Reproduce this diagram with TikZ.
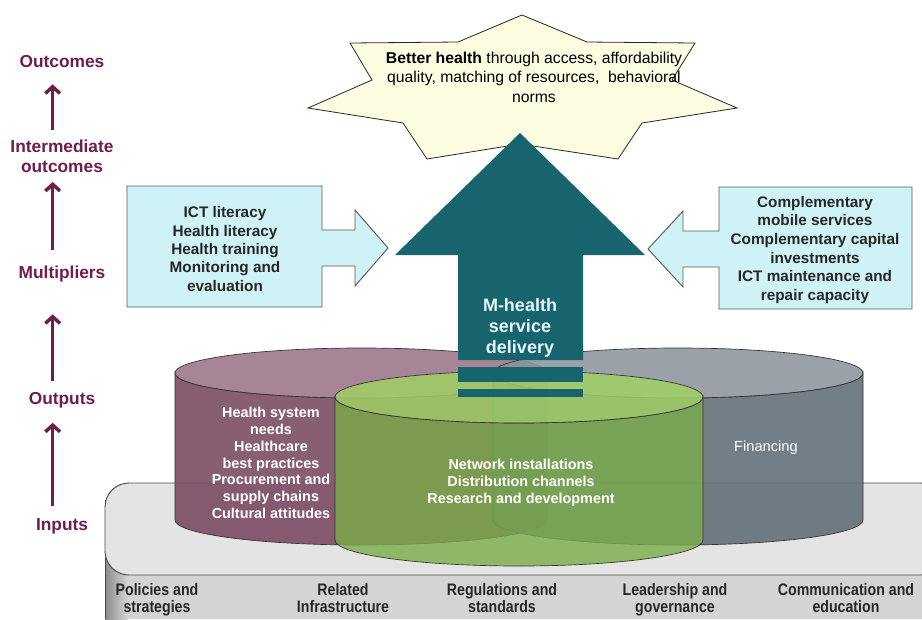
\documentclass[tikz,border=0pt]{standalone}
\usepackage{fontspec}
\setmainfont{Liberation Sans}
\newfontfamily\narrowfont{Liberation Sans}[FakeStretch=0.85]
\usetikzlibrary{arrows.meta}

\definecolor{levelred}{RGB}{110,30,72}
\definecolor{calloutfill}{RGB}{207,242,246}
\definecolor{deliveryteal}{RGB}{24,100,110}
\definecolor{starfill}{RGB}{253,253,226}
\definecolor{maroonbody}{RGB}{120,72,96}
\definecolor{maroontop}{RGB}{154,116,136}
\definecolor{greybody}{RGB}{96,108,118}
\definecolor{greytop}{RGB}{140,148,156}
\definecolor{greenbody}{RGB}{122,172,74}
\definecolor{greentop}{RGB}{160,208,100}
\definecolor{basetop}{RGB}{228,228,228}
\definecolor{baseside}{RGB}{212,212,212}

\tikzset{
  levellabel/.style={text=levelred, font=\fontsize{13}{15}\selectfont\bfseries, align=center, inner sep=2pt},
  levelarrow/.style={draw=levelred, line width=2.6pt, -{Straight Barb[length=5pt,width=11pt]}},
  calloutbox/.style={fill=calloutfill, draw=black!65, line width=0.7pt},
  callouttext/.style={font=\fontsize{11.5}{13.8}\selectfont\bfseries, text=black!85, align=center, inner sep=0pt},
  cylbody/.style={fill=#1, fill opacity=0.88, draw=black!80, line width=0.5pt},
  cyltext/.style={text=white, font=\fontsize{10.8}{12.6}\selectfont\bfseries, align=center, inner sep=0pt},
  basetext/.style={text=black!85, font=\narrowfont\fontsize{12.5}{12.8}\selectfont\bfseries, align=center, inner sep=0pt, anchor=north},
}

\begin{document}
\begin{tikzpicture}[x=0.75pt, y=-0.75pt]
    \useasboundingbox (0,0) rectangle (922,619);
    \clip (0,0) rectangle (922,619);

    % Draw the base platform
    \fill[baseside] (105,540) rectangle (930,619);
    \shade[left color=black!45, right color=baseside] (105,540) rectangle (128,619);
    \draw[line width=0.7pt, black!70] (105,500) -- (105,619);
    \filldraw[fill=basetop, draw=black!70, line width=0.7pt, rounded corners=18pt] (105,483) rectangle (945,575);

    % Draw the three cylinders
    \def\ry{25}
    \filldraw[cylbody=maroonbody] (175,373) -- (175,520) arc[start angle=180, end angle=0, x radius=186, y radius=\ry] -- (547,373) arc[start angle=0, end angle=180, x radius=186, y radius=\ry] -- cycle;
    \filldraw[cylbody=maroontop] (361,373) ellipse [x radius=186, y radius=\ry];

    \filldraw[cylbody=greybody] (493,373) -- (493,520) arc[start angle=180, end angle=0, x radius=185, y radius=\ry] -- (863,373) arc[start angle=0, end angle=180, x radius=185, y radius=\ry] -- cycle;
    \filldraw[cylbody=greytop] (678,373) ellipse [x radius=185, y radius=\ry];

    \def\ry{26}
    \filldraw[cylbody=greenbody, fill opacity=0.8] (335,397) -- (335,540) arc[start angle=180, end angle=0, x radius=184, y radius=\ry] -- (703,397) arc[start angle=0, end angle=180, x radius=184, y radius=\ry] -- cycle;
    \filldraw[cylbody=greentop, fill opacity=0.85] (519,397) ellipse [x radius=184, y radius=\ry];

    % Draw the star
    \filldraw[fill=starfill, draw=black!85, line width=0.6pt] (522,15) -- (587,42) -- (695,43) -- (672,80) -- (737,108) -- (642,123) -- (618,159) -- (520,144) -- (427,159) -- (403,123) -- (308,108) -- (372,80) -- (350,43) -- (458,42) -- cycle;

    % Draw the delivery arrow
    \fill[deliveryteal] (520,133) -- (645,255) -- (583,255) -- (583,360) -- (458,360) -- (458,255) -- (395,255) -- cycle;
    \fill[deliveryteal] (458,367) rectangle (583,382);
    \fill[deliveryteal] (458,389) rectangle (583,397);

    % Draw the callouts
    \filldraw[calloutbox] (127,186) -- (322,186) -- (322,230) -- (355,230) -- (355,210) -- (388,248) -- (355,286) -- (355,266) -- (322,266) -- (322,307) -- (127,307) -- cycle;
    \filldraw[calloutbox] (912,187) -- (719,187) -- (719,231) -- (683,231) -- (683,211) -- (648,249) -- (683,287) -- (683,267) -- (719,267) -- (719,309) -- (912,309) -- cycle;

    % Texts
    \node[font=\fontsize{11.8}{14.6}\selectfont, align=center, inner sep=0pt] (goal) at (534,77) {\textbf{Better health} through access, affordability\\quality, matching of resources,\ \ behavioral\\norms};
    \node[text=white!90!cyan, font=\fontsize{13.5}{15.8}\selectfont\bfseries, align=center, inner sep=0pt] (delivery) at (520,328) {M-health\\service\\delivery};
    \node[callouttext] (skills) at (225,249) {ICT literacy\\Health literacy\\Health training\\Monitoring and\\evaluation};
    \node[callouttext, font=\fontsize{11.5}{14}\selectfont\bfseries] (complements) at (815,250) {Complementary\\mobile services\\Complementary capital\\investments\\ICT maintenance and\\repair capacity};
    \node[cyltext] (needs) at (271,463) {Health system\\needs\\Healthcare\\best practices\\Procurement and\\supply chains\\Cultural attitudes};
    \node[cyltext] (networks) at (521,483) {Network installations\\Distribution channels\\Research and development};
    \node[cyltext, font=\fontsize{11}{13}\selectfont] (financing) at (766,448) {Financing};

    % Base labels
    \node[basetext] (base-policies) at (157,583) {Policies and\\strategies};
    \node[basetext] (base-infra) at (343,583) {Related\\Infrastructure};
    \node[basetext] (base-regulations) at (502,583) {Regulations and\\standards};
    \node[basetext] (base-leadership) at (675,583) {Leadership and\\governance};
    \node[basetext] (base-communication) at (846,583) {Communication and\\education};

    % Levels on the left
    \node[levellabel] (lvl-outcomes) at (62,62) {Outcomes};
    \node[levellabel] (lvl-intermediate) at (62,156) {Intermediate\\outcomes};
    \node[levellabel] (lvl-multipliers) at (62,274) {Multipliers};
    \node[levellabel] (lvl-outputs) at (62,400) {Outputs};
    \node[levellabel] (lvl-inputs) at (62,526) {Inputs};

    \draw[levelarrow, shorten <=7pt, shorten >=9pt] ([xshift=-7pt]lvl-inputs.north) -- ([xshift=-7pt]lvl-outputs.south);
    \draw[levelarrow, shorten <=6pt, shorten >=22pt] ([xshift=-7pt]lvl-outputs.north) -- ([xshift=-7pt]lvl-multipliers.south);
    \draw[levelarrow, shorten <=10pt, shorten >=5pt] ([xshift=-7pt]lvl-multipliers.north) -- ([xshift=-7pt]lvl-intermediate.south);
    \draw[levelarrow, shorten <=5pt, shorten >=10pt] ([xshift=-7pt]lvl-intermediate.north) -- ([xshift=-7pt]lvl-outcomes.south);
\end{tikzpicture}
\end{document}
